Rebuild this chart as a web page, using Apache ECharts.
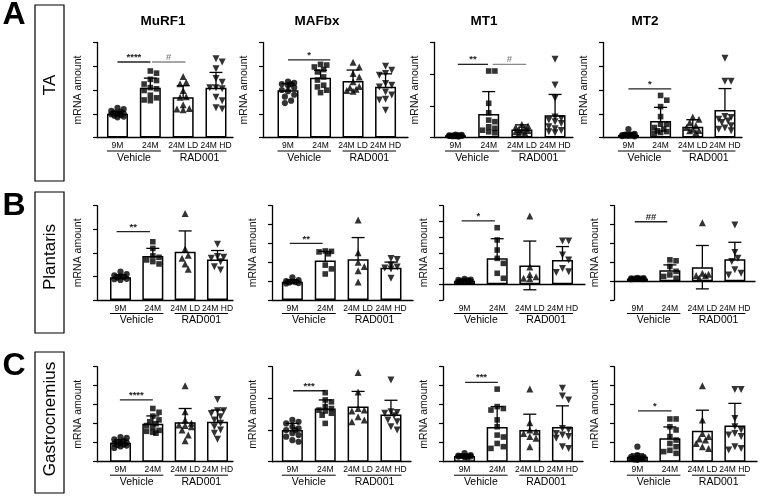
<!DOCTYPE html>
<html><head><meta charset="utf-8">
<script src="https://cdn.jsdelivr.net/npm/echarts@6/dist/echarts.min.js"></script>
<style>html,body{margin:0;padding:0;background:#fff}#c{width:760px;height:496px}</style>
</head><body><div id="c"></div>
<script>
// ---------------- DATA ----------------
const categories = ['9M', '24M', '24M LD', '24M HD'];
const groupLabels = ['Vehicle', 'RAD001'];
const genes = ['MuRF1', 'MAFbx', 'MT1', 'MT2'];
const muscles = ['TA', 'Plantaris', 'Gastrocnemius'];
const panelLetters = ['A', 'B', 'C'];

// panels in row-major order: TA(MuRF1,MAFbx,MT1,MT2), Plantaris(...), Gastrocnemius(...)
const means = [
  [1.00, 2.09, 1.70, 2.09], [1.99, 2.52, 2.38, 2.14], [0.07, 0.74, 0.25, 0.70], [0.11, 0.70, 0.45, 1.16],
  [0.97, 1.87, 2.05, 1.72], [0.97, 2.10, 2.16, 1.71], [0.23, 1.65, 1.20, 1.55], [0.14, 0.58, 0.74, 1.16],
  [1.00, 2.00, 2.07, 2.10], [1.00, 1.68, 1.74, 1.49], [0.30, 1.82, 1.67, 1.82], [0.26, 1.23, 1.63, 1.91]
];
const sds = [
  [0.10, 0.41, 0.48, 0.65], [0.28, 0.31, 0.46, 0.54], [0.02, 0.71, 0.15, 0.66], [0.08, 0.57, 0.30, 0.90],
  [0.10, 0.32, 0.88, 0.38], [0.10, 0.48, 1.15, 0.30], [0.07, 1.25, 1.55, 0.85], [0.03, 0.28, 1.15, 0.90],
  [0.15, 0.41, 0.73, 0.62], [0.21, 0.27, 0.48, 0.45], [0.06, 1.08, 0.83, 1.12], [0.15, 0.60, 1.08, 1.16]
];
const pts9M = [
  [1.25,1.2,1.12,1.08,1.05,1.02,1.0,0.98,0.95,0.92,0.88,0.85],
  [2.35,2.3,2.25,2.25,2.2,2.1,2.0,1.95,1.8,1.72,1.55,1.45],
  [0.05,0.04,0.06,0.08,0.07,0.05,0.03,0.06,0.09,0.04,0.05,0.07],
  [0.35,0.15,0.12,0.1,0.08,0.06,0.1,0.05,0.08,0.12,0.07,0.09],
  [1.2,1.1,1.05,1.0,0.98,0.95,0.9,0.88,0.85],
  [1.2,1.05,1.0,0.98,0.95,0.93,0.9,0.88],
  [0.35,0.3,0.28,0.22,0.2,0.15,0.18,0.25],
  [0.18,0.15,0.13,0.12,0.14,0.16,0.1,0.11],
  [1.3,1.25,1.18,1.1,1.05,1.0,0.98,0.95,0.9,0.85,0.8,0.72,0.88],
  [1.32,1.26,1.21,1.1,1.05,1.0,0.9,0.84,0.79,0.68,0.63,1.0],
  [0.45,0.35,0.3,0.28,0.25,0.3,0.22,0.32,0.27,0.3],
  [0.79,0.35,0.26,0.18,0.15,0.2,0.12,0.1,0.22,0.16,0.18,0.25]
];
const pts24M = [
  [2.8,2.71,2.45,2.4,2.25,2.1,2.05,1.98,1.78,1.67,1.58,1.55],
  [3.08,3.05,2.97,2.86,2.76,2.55,2.42,2.2,2.13,1.99,1.89],
  [2.1,2.1,1.08,0.78,0.55,0.5,0.34,0.29,0.23,0.18,0.15],
  [1.77,1.57,1.3,0.88,0.56,0.42,0.35,0.28,0.21,0.18,0.25,0.55],
  [2.47,2.19,1.87,1.81,1.7,1.63,1.53],
  [2.6,2.58,2.55,2.45,1.85,1.65,1.38],
  [3.6,2.82,2.18,1.65,1.33,0.7,0.38],
  [1.13,1.08,0.78,0.52,0.33,0.25,0.15],
  [2.8,2.6,2.4,2.2,2.1,2.0,1.9,1.8,1.65,1.55,1.5,1.6],
  [2.18,1.95,1.89,1.74,1.68,1.63,1.53,1.47,1.21,1.6],
  [3.82,2.9,2.8,2.72,2.2,1.84,1.4,1.3,0.96,0.79,0.7],
  [2.25,2.25,1.84,1.67,1.32,1.14,0.96,0.79,0.53,0.44,0.6]
];
const ptsLD = [
  [2.57,2.33,2.26,1.98,1.72,1.7,1.38,1.22,1.17,1.2],
  [3.17,2.97,2.7,2.55,2.35,2.15,2.1,2.03,1.98,1.95],
  [0.41,0.36,0.32,0.3,0.25,0.22,0.18,0.14,0.12,0.2],
  [0.86,0.77,0.63,0.49,0.42,0.35,0.28,0.21,0.3],
  [3.67,2.16,1.9,1.77,1.53,1.3],
  [4.24,2.5,2.0,1.78,1.55,0.95],
  [4.34,1.1,0.63,0.48,0.38,0.36],
  [3.1,0.42,0.37,0.28,0.15,0.3],
  [4.0,2.63,2.2,2.02,1.93,1.84,1.67,1.4,1.9,1.1],
  [2.82,2.2,1.68,1.63,1.42,1.32,1.26,1.6],
  [3.82,2.05,1.67,1.58,1.49,1.32,1.23,0.79],
  [4.0,2.2,1.49,1.32,1.14,0.96,0.79,0.7,1.2]
];
const ptsHD = [
  [3.32,3.18,2.9,2.48,2.33,2.09,2.05,1.7,1.55,1.25,1.2,2.1],
  [3.0,2.83,2.7,2.62,2.27,2.2,2.13,1.92,1.79,1.61,1.58,1.15],
  [2.47,1.66,1.24,0.65,0.6,0.55,0.44,0.34,0.28,0.22,0.18,0.15,0.5],
  [3.34,2.37,2.37,0.88,0.84,0.77,0.7,0.63,0.49,0.35,0.28,0.4],
  [2.37,1.84,1.81,1.77,1.62,1.41,1.27],
  [2.2,2.15,1.85,1.75,1.65,1.15,1.7],
  [2.75,2.75,1.86,1.55,1.0,0.8,0.75],
  [2.98,1.52,1.22,1.04,0.6,0.42,0.33],
  [3.28,2.68,2.68,2.54,2.37,2.2,2.02,1.84,1.67,1.5,1.18],
  [2.58,1.58,1.53,1.32,1.26,1.1,1.0,1.55,1.45],
  [3.86,3.46,3.25,1.67,1.49,1.4,1.32,1.23,0.79,0.7,1.75],
  [3.8,3.8,2.28,1.84,1.67,1.49,1.4,1.32,0.79,0.7,0.61]
];
const yMin = [0,0,0,0, 0,0,-1,-1, 0,0,0,0];
const yMax = [4,4,3,4, 4,5,5,4, 5,3,5,5];
// significance bars: [fromX, toX, y, label, colour]
const sigBars = [
  [[0,1,3.18,'****','#222'],[1.05,2.07,3.18,'#','#888']],
  [[0,1.3,3.27,'*','#222']],
  [[0.07,0.98,2.31,'**','#222'],[1.12,2.13,2.31,'#','#888']],
  [[0,1.33,2.05,'*','#222']],
  [[-0.12,0.91,2.9,'**','#222']],
  [[-0.08,0.92,3.0,'**','#222']],
  [[-0.09,0.93,4.03,'*','#222']],
  [[-0.08,0.92,3.15,'##','#222']],
  [[-0.02,1.0,3.25,'****','#222']],
  [[0.02,1.0,2.24,'***','#222']],
  [[0.02,1.02,4.18,'***','#222']],
  [[0.02,1.05,2.68,'*','#222']]
];

// ---------------- LAYOUT ----------------
// [axisLeftPx, axisRightPx, topPx, bottomPx, xMin, xMax]
const panelLayout = [
  [97,233,42.5,137.5,-0.624,3.518],[263,408,42.5,137.5,-0.769,3.69],[434,573,42.5,137.5,-0.648,3.54],[603,742,42.5,137.5,-0.79,3.53],
  [97,233,205.7,300,-0.727,3.48],[272,413,205.7,300,-0.62,3.67],[443,585,205.7,300,-0.66,3.69],[614,755,205.7,300,-0.72,3.62],
  [97,233,366.7,461.7,-0.727,3.48],[272,411,366.7,461.7,-0.62,3.61],[443,583,366.7,461.7,-0.66,3.63],[614,757,366.7,461.7,-0.72,3.68]
];
const FONT = '"Liberation Sans", Arial, sans-serif';
const BAR_W = 21, DOT = 6.2, MAX_HALF = 8.5;

function swarm(vals, pxY, d, maxHalf) {
  const order = vals.map((v, i) => i).sort((a, b) => vals[b] - vals[a]);
  const placed = [];
  const offs = new Array(vals.length).fill(0);
  const step = d * 0.5;
  const cands = [0];
  for (let k = 1; k * step <= maxHalf + 0.01; k++) cands.push(k * step, -k * step);
  order.forEach(i => {
    const y = vals[i] * pxY;
    let best = 0, bestScore = -1;
    for (const c of cands) {
      let minD = Infinity;
      for (const q of placed) { const dd = Math.hypot(q.x - c, q.y - y); if (dd < minD) minD = dd; }
      if (minD >= d) { best = c; break; }
      if (minD > bestScore) { bestScore = minD; best = c; }
    }
    placed.push({ x: best, y }); offs[i] = best;
  });
  return offs;
}

function txt(s, x, y, size, color, weight) {
  return { type: 'text', x: x, y: y, style: { text: s, font: (weight || 'normal') + ' ' + size + 'px ' + FONT,
    fill: color || '#000', align: 'center', verticalAlign: 'middle', textAlign: 'center', textVerticalAlign: 'middle' } };
}

const grids = [], xAxes = [], yAxes = [], series = [];
const groupsPts = [pts9M, pts24M, ptsLD, ptsHD];
const symbols = [['circle', 0, DOT], ['rect', 0, DOT - 0.6], ['triangle', 0, DOT + 0.8], ['triangle', 180, DOT + 0.8]];

for (let p = 0; p < 12; p++) {
  const [L, R, T, B, xmin, xmax] = panelLayout[p];
  grids.push({ left: L, top: T, width: R - L, height: B - T, containLabel: false });
  xAxes.push({ type: 'value', gridIndex: p, min: xmin, max: xmax,
    axisLine: { show: true, onZero: true, lineStyle: { color: '#000', width: 1.3 } },
    axisTick: { show: false }, axisLabel: { show: false }, splitLine: { show: false } });
  yAxes.push({ type: 'value', gridIndex: p, min: yMin[p], max: yMax[p], interval: 1,
    axisLine: { show: true, onZero: false, lineStyle: { color: '#000', width: 1.3 } },
    axisTick: { show: true, length: 4, lineStyle: { color: '#000', width: 1.2 } },
    axisLabel: { show: false }, splitLine: { show: false },
    name: 'mRNA amount', nameLocation: 'middle', nameGap: 13,
    nameTextStyle: { fontFamily: FONT, fontSize: 10.5, color: '#111' } });

  series.push({ type: 'bar', xAxisIndex: p, yAxisIndex: p, barWidth: BAR_W, silent: true,
    itemStyle: { color: '#fff', borderColor: '#000', borderWidth: 1.5 },
    data: means[p].map((m, i) => [i, m]) });

  series.push({ type: 'custom', xAxisIndex: p, yAxisIndex: p, silent: true,
    data: means[p].map((m, i) => [i, m, sds[p][i]]),
    renderItem: (params, api) => {
      const x = api.value(0), m = api.value(1), s = api.value(2);
      const a = api.coord([x, m + s]), b = api.coord([x, m - s]);
      const cap = 6.5, st = { stroke: '#000', lineWidth: 1.3 };
      return { type: 'group', children: [
        { type: 'line', shape: { x1: a[0], y1: a[1], x2: b[0], y2: b[1] }, style: st },
        { type: 'line', shape: { x1: a[0] - cap, y1: a[1], x2: a[0] + cap, y2: a[1] }, style: st },
        { type: 'line', shape: { x1: b[0] - cap, y1: b[1], x2: b[0] + cap, y2: b[1] }, style: st }
      ] };
    } });

  const pxY = (B - T) / (yMax[p] - yMin[p]);
  const pxX = (R - L) / (xmax - xmin);
  groupsPts.forEach((g, gi) => {
    const vals = g[p];
    const offs = swarm(vals, pxY, DOT, MAX_HALF);
    series.push({ type: 'scatter', xAxisIndex: p, yAxisIndex: p, silent: true,
      symbol: symbols[gi][0], symbolRotate: symbols[gi][1], symbolSize: symbols[gi][2],
      itemStyle: { color: '#000' },
      data: vals.map((v, k) => [gi + offs[k] / pxX, v]) });
  });

  series.push({ type: 'custom', xAxisIndex: p, yAxisIndex: p, silent: true,
    data: [[0, yMin[p]]],
    renderItem: (params, api) => {
      const ch = [];
      const yb = yMin[p];
      categories.forEach((c, i) => {
        const pt = api.coord([i, yb]);
        ch.push(txt(c, pt[0], pt[1] + 8.3, 8.5));
      });
      [[0, 1], [2, 3]].forEach((g, gi) => {
        const a = api.coord([g[0], yb]), b = api.coord([g[1], yb]);
        ch.push({ type: 'line', shape: { x1: a[0] - BAR_W / 2, y1: a[1] + 13.5, x2: b[0] + BAR_W / 2, y2: b[1] + 13.5 },
          style: { stroke: '#000', lineWidth: 1 } });
        ch.push(txt(groupLabels[gi], (a[0] + b[0]) / 2, a[1] + 20.5, 10.5));
      });
      sigBars[p].forEach(s => {
        const a = api.coord([s[0], s[2]]), b = api.coord([s[1], s[2]]);
        ch.push({ type: 'line', shape: { x1: a[0], y1: a[1], x2: b[0], y2: b[1] }, style: { stroke: s[4], lineWidth: 1.3 } });
        ch.push(txt(s[3], (a[0] + b[0]) / 2, a[1] - 4.5, 9.5, s[4], 'bold'));
      });
      return { type: 'group', children: ch };
    } });
}

// page furniture: letters, row boxes, row labels, column titles
const titleX = [163, 317, 484, 645];
const rowBox = [[35, 5, 29, 176], [35, 192, 29, 141], [35, 352, 29, 141]];
const rowLabelY = [85, 257, 419];
const letterY = [15, 206, 366];
const graphics = [];
genes.forEach((g, i) => graphics.push({ type: 'text', x: titleX[i], y: 21,
  style: { text: g, font: 'bold 13.5px ' + FONT, fill: '#000', textAlign: 'center', textVerticalAlign: 'middle' } }));
muscles.forEach((m, i) => {
  const [bx, by, bw, bh] = rowBox[i];
  graphics.push({ type: 'rect', shape: { x: bx, y: by, width: bw, height: bh }, style: { fill: 'none', stroke: '#000', lineWidth: 1.2 } });
  graphics.push({ type: 'text', x: bx + bw / 2 + 1, y: rowLabelY[i], rotation: Math.PI / 2,
    style: { text: m, font: '17px ' + FONT, fill: '#000', textAlign: 'center', textVerticalAlign: 'middle' } });
  graphics.push({ type: 'text', x: 14, y: letterY[i],
    style: { text: panelLetters[i], font: 'bold 32px ' + FONT, fill: '#000', textAlign: 'center', textVerticalAlign: 'middle' } });
});

const chart = echarts.init(document.getElementById('c'), null, { renderer: 'canvas', width: 760, height: 496, devicePixelRatio: 1 });
chart.setOption({
  animation: false,
  backgroundColor: '#fff',
  grid: grids, xAxis: xAxes, yAxis: yAxes, series: series,
  graphic: { elements: graphics }
});
</script>
</body></html>
